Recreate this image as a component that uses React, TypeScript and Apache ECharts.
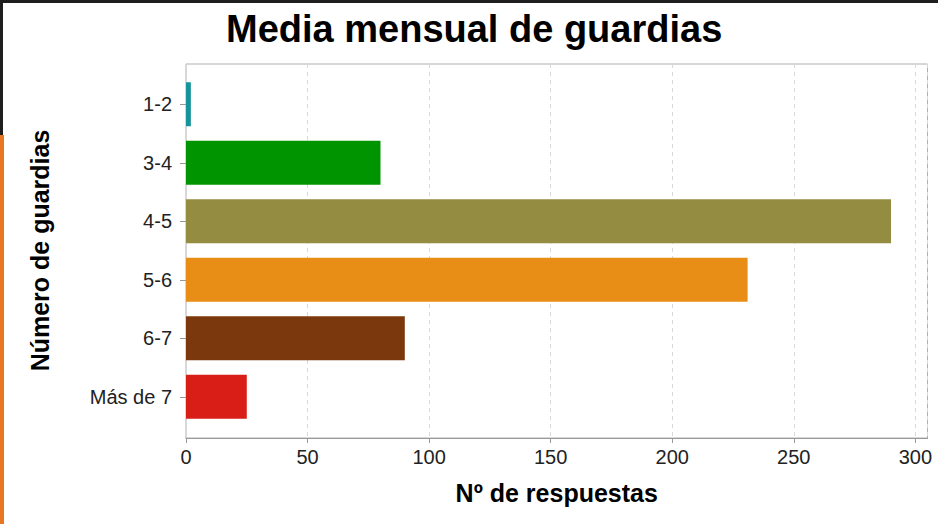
import React, { useEffect, useRef } from "react";
import * as echarts from "echarts";

const categories = ["1-2", "3-4", "4-5", "5-6", "6-7", "Más de 7"];
const values = [2, 80, 290, 231, 90, 25];
const barColors = ["#17939a", "#009400", "#948c40", "#e88d15", "#7b380c", "#d91e18"];
const titleText = "Media mensual de guardias";
const xName = "Nº de respuestas";
const yName = "Número de guardias";

const FONT = "Liberation Sans, Arial, sans-serif";

export default function App() {
  const ref = useRef<HTMLDivElement>(null);
  useEffect(() => {
    if (!ref.current) return;
    const chart = echarts.init(ref.current, undefined, { renderer: "svg" });
    chart.setOption({
      animation: false,
      backgroundColor: "#ffffff",
      title: {
        text: titleText,
        left: 221,
        top: 5,
        textStyle: { fontFamily: FONT, fontSize: 38, fontWeight: "bold", color: "#000" },
      },
      graphic: [
        { type: "rect", left: 0, top: 0, shape: { width: 938, height: 3 }, style: { fill: "#1e1e1e" } },
        { type: "rect", left: 0, top: 0, shape: { width: 3, height: 135 }, style: { fill: "#1e1e1e" } },
        { type: "rect", left: 0, top: 135, shape: { width: 4, height: 389 }, style: { fill: "#e87722" } },
      ],
      grid: [
        { left: 186, right: 10.5, top: 64, bottom: 86, show: true, borderColor: "#b0b0b0", borderWidth: 1, backgroundColor: "transparent" },
        { left: 186, right: 10.5, top: 75, bottom: 98 },
      ],
      xAxis: [
        {
          type: "value",
          gridIndex: 0,
          min: 0,
          max: 305,
          interval: 50,
          axisLine: { show: true, lineStyle: { color: "#999" } },
          axisTick: { show: true, length: 5, lineStyle: { color: "#999" } },
          axisLabel: { fontFamily: FONT, fontSize: 20, color: "#222", margin: 9, showMaxLabel: false },
          splitLine: { show: true, lineStyle: { color: "#d8d8d8", type: [4, 4] } },
          name: xName,
          nameLocation: "middle",
          nameGap: 42,
          nameTextStyle: { fontFamily: FONT, fontSize: 25, fontWeight: "bold", color: "#000" },
        },
        {
          type: "value",
          gridIndex: 1,
          min: 0,
          max: 305,
          show: false,
        },
      ],
      yAxis: [
        { type: "value", gridIndex: 0, min: 0, max: 1, show: false },
        {
          type: "category",
          gridIndex: 1,
          inverse: true,
          data: categories,
          axisLine: { show: false },
          axisTick: { show: true, alignWithLabel: true, length: 6, lineStyle: { color: "#999" } },
          axisLabel: { fontFamily: FONT, fontSize: 20, color: "#222", margin: 14 },
          name: yName,
          nameLocation: "middle",
          nameGap: 134,
          nameTextStyle: { fontFamily: FONT, fontSize: 25, fontWeight: "bold", color: "#000" },
        },
      ],
      series: [
        {
          type: "bar",
          xAxisIndex: 1,
          yAxisIndex: 1,
          barWidth: 44,
          data: values.map((v, i) => ({ value: v, itemStyle: { color: barColors[i] } })),
        },
      ],
    });
    return () => chart.dispose();
  }, []);
  return <div ref={ref} style={{ position: "fixed", left: 0, top: 0, width: 938, height: 524 }} />;
}
